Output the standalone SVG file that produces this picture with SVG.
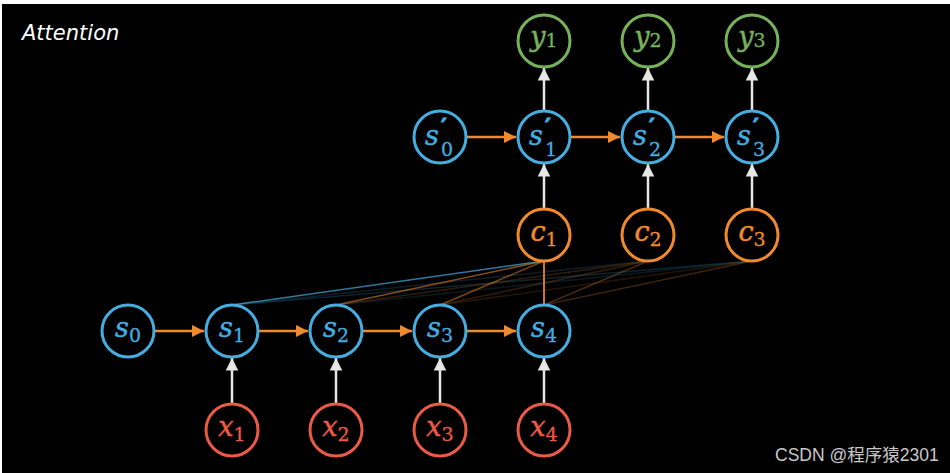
<svg xmlns="http://www.w3.org/2000/svg" width="950" height="473" viewBox="0 0 950 473">
<style>
.n circle{fill:#000;stroke-width:3}
.b circle{stroke:#45ade0}
.o circle{stroke:#f08a2c}
.g circle{stroke:#76b25a}
.r circle{stroke:#ea5a44}
.lt{font-family:'DejaVu Serif',serif;font-style:italic;font-size:27px;stroke-width:0.5}
.sb{font-family:'DejaVu Serif',serif;font-style:normal;font-size:19px;stroke-width:0.3}
.pr{font-family:'DejaVu Serif',serif;font-weight:bold;font-size:22px}
.b text{fill:#45ade0;stroke:#45ade0}.o text{fill:#f08a2c;stroke:#f08a2c}.g text{fill:#76b25a;stroke:#76b25a}.r text{fill:#ea5a44;stroke:#ea5a44}
.oa{stroke:#f08a2c;stroke-width:2.5;fill:none}
.wa{stroke:#e6e6e6;stroke-width:2.5;fill:none}
</style>
<defs>
<marker id="ao" viewBox="0 0 10 10" refX="10" refY="5" markerWidth="5" markerHeight="5" orient="auto" markerUnits="strokeWidth"><path d="M0,0L10,5L0,10z" fill="#f08a2c"/></marker>
<marker id="aw" viewBox="0 0 10 10" refX="10" refY="5" markerWidth="5" markerHeight="5" orient="auto" markerUnits="strokeWidth"><path d="M0,0L10,5L0,10z" fill="#e6e6e6"/></marker>
</defs>
<rect x="0" y="0" width="950" height="473" fill="#fff"/>
<rect x="2" y="4" width="948" height="469" fill="#000"/>
<text x="22" y="40" font-family="DejaVu Sans,sans-serif" font-style="italic" font-size="21" fill="#fff">Attention</text>
<g id="connectors">
<g stroke-width="1.5" fill="none">
<line x1="648" y1="261" x2="232" y2="305" stroke="#45ade0" opacity="0.18"/>
<line x1="648" y1="261" x2="336" y2="305" stroke="#f08a2c" opacity="0.2"/>
<line x1="648" y1="261" x2="440" y2="305" stroke="#f08a2c" opacity="0.2"/>
<line x1="648" y1="261" x2="544" y2="305" stroke="#f08a2c" opacity="0.3"/>
<line x1="752" y1="261" x2="232" y2="305" stroke="#45ade0" opacity="0.2"/>
<line x1="752" y1="261" x2="336" y2="305" stroke="#45ade0" opacity="0.15"/>
<line x1="752" y1="261" x2="440" y2="305" stroke="#f08a2c" opacity="0.15"/>
<line x1="752" y1="261" x2="544" y2="305" stroke="#f08a2c" opacity="0.25"/>
<line x1="544" y1="261" x2="232" y2="305" stroke="#45ade0" opacity="0.7"/>
<line x1="544" y1="261" x2="336" y2="305" stroke="#f08a2c" opacity="0.55"/>
<line x1="544" y1="261" x2="440" y2="305" stroke="#f08a2c" opacity="0.5"/>
<line x1="544" y1="261" x2="544" y2="305" stroke="#f08a2c" opacity="0.85" stroke-width="2"/>
</g>
<line class="oa" x1="155" y1="331" x2="204" y2="331" marker-end="url(#ao)"/>
<line class="oa" x1="259" y1="331" x2="308" y2="331" marker-end="url(#ao)"/>
<line class="oa" x1="363" y1="331" x2="412" y2="331" marker-end="url(#ao)"/>
<line class="oa" x1="467" y1="331" x2="516" y2="331" marker-end="url(#ao)"/>
<line class="oa" x1="467" y1="137" x2="516" y2="137" marker-end="url(#ao)"/>
<line class="oa" x1="571" y1="137" x2="620" y2="137" marker-end="url(#ao)"/>
<line class="oa" x1="675" y1="137" x2="724" y2="137" marker-end="url(#ao)"/>
<line class="wa" x1="232" y1="403" x2="232" y2="358" marker-end="url(#aw)"/>
<line class="wa" x1="336" y1="403" x2="336" y2="358" marker-end="url(#aw)"/>
<line class="wa" x1="440" y1="403" x2="440" y2="358" marker-end="url(#aw)"/>
<line class="wa" x1="544" y1="403" x2="544" y2="358" marker-end="url(#aw)"/>
<line class="wa" x1="544" y1="208" x2="544" y2="164" marker-end="url(#aw)"/>
<line class="wa" x1="648" y1="208" x2="648" y2="164" marker-end="url(#aw)"/>
<line class="wa" x1="752" y1="208" x2="752" y2="164" marker-end="url(#aw)"/>
<line class="wa" x1="544" y1="110" x2="544" y2="68" marker-end="url(#aw)"/>
<line class="wa" x1="648" y1="110" x2="648" y2="68" marker-end="url(#aw)"/>
<line class="wa" x1="752" y1="110" x2="752" y2="68" marker-end="url(#aw)"/>
</g>
<g id="s0" class="n b"><circle cx="128" cy="331" r="26"/><text x="128" y="337" text-anchor="middle"><tspan class="lt">s</tspan><tspan class="sb" dy="5">0</tspan></text></g>
<g id="s1" class="n b"><circle cx="232" cy="331" r="26"/><text x="232" y="337" text-anchor="middle"><tspan class="lt">s</tspan><tspan class="sb" dy="5">1</tspan></text></g>
<g id="s2" class="n b"><circle cx="336" cy="331" r="26"/><text x="336" y="337" text-anchor="middle"><tspan class="lt">s</tspan><tspan class="sb" dy="5">2</tspan></text></g>
<g id="s3" class="n b"><circle cx="440" cy="331" r="26"/><text x="440" y="337" text-anchor="middle"><tspan class="lt">s</tspan><tspan class="sb" dy="5">3</tspan></text></g>
<g id="s4" class="n b"><circle cx="544" cy="331" r="26"/><text x="544" y="337" text-anchor="middle"><tspan class="lt">s</tspan><tspan class="sb" dy="5">4</tspan></text></g>
<g id="x1" class="n r"><circle cx="232" cy="430" r="26"/><text x="232" y="436" text-anchor="middle"><tspan class="lt">x</tspan><tspan class="sb" dy="5">1</tspan></text></g>
<g id="x2" class="n r"><circle cx="336" cy="430" r="26"/><text x="336" y="436" text-anchor="middle"><tspan class="lt">x</tspan><tspan class="sb" dy="5">2</tspan></text></g>
<g id="x3" class="n r"><circle cx="440" cy="430" r="26"/><text x="440" y="436" text-anchor="middle"><tspan class="lt">x</tspan><tspan class="sb" dy="5">3</tspan></text></g>
<g id="x4" class="n r"><circle cx="544" cy="430" r="26"/><text x="544" y="436" text-anchor="middle"><tspan class="lt">x</tspan><tspan class="sb" dy="5">4</tspan></text></g>
<g id="c1" class="n o"><circle cx="544" cy="235" r="26"/><text x="544" y="241" text-anchor="middle"><tspan class="lt">c</tspan><tspan class="sb" dy="5">1</tspan></text></g>
<g id="c2" class="n o"><circle cx="648" cy="235" r="26"/><text x="648" y="241" text-anchor="middle"><tspan class="lt">c</tspan><tspan class="sb" dy="5">2</tspan></text></g>
<g id="c3" class="n o"><circle cx="752" cy="235" r="26"/><text x="752" y="241" text-anchor="middle"><tspan class="lt">c</tspan><tspan class="sb" dy="5">3</tspan></text></g>
<g id="y1" class="n g"><circle cx="544" cy="41" r="26"/><text x="544" y="46" text-anchor="middle"><tspan class="lt">y</tspan><tspan class="sb" dy="1">1</tspan></text></g>
<g id="y2" class="n g"><circle cx="648" cy="41" r="26"/><text x="648" y="46" text-anchor="middle"><tspan class="lt">y</tspan><tspan class="sb" dy="1">2</tspan></text></g>
<g id="y3" class="n g"><circle cx="752" cy="41" r="26"/><text x="752" y="46" text-anchor="middle"><tspan class="lt">y</tspan><tspan class="sb" dy="1">3</tspan></text></g>
<g id="sp0" class="n b"><circle cx="440" cy="137" r="26"/><text class="lt" x="425" y="145">s</text><text class="pr" x="441" y="134">′</text><text class="sb" x="441" y="156">0</text></g>
<g id="sp1" class="n b"><circle cx="544" cy="137" r="26"/><text class="lt" x="529" y="145">s</text><text class="pr" x="545" y="134">′</text><text class="sb" x="545" y="156">1</text></g>
<g id="sp2" class="n b"><circle cx="648" cy="137" r="26"/><text class="lt" x="633" y="145">s</text><text class="pr" x="649" y="134">′</text><text class="sb" x="649" y="156">2</text></g>
<g id="sp3" class="n b"><circle cx="752" cy="137" r="26"/><text class="lt" x="737" y="145">s</text><text class="pr" x="753" y="134">′</text><text class="sb" x="753" y="156">3</text></g>
<text x="775" y="461" font-family="Liberation Sans,Noto Sans CJK SC,sans-serif" font-size="17.5" fill="#c8c8c8">CSDN @程序猿2301</text>
</svg>
